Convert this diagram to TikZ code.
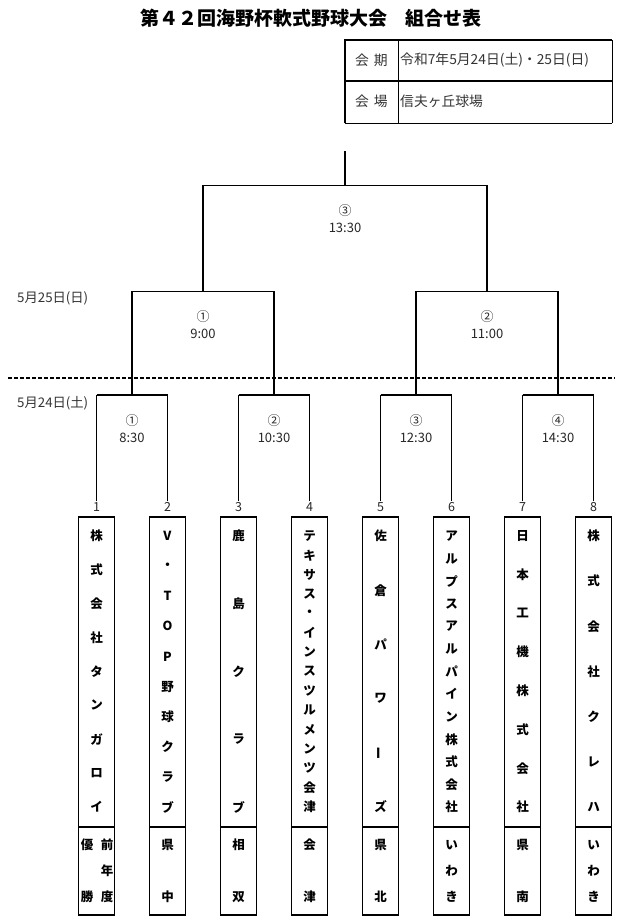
\documentclass[tikz,border=0pt]{standalone}
\usepackage{fontspec}
\setmainfont{Noto Sans CJK JP}
\usetikzlibrary{positioning}
\newcommand\tatebar{\rotatebox[origin=c]{90}{ー}}

\begin{document}
\begin{tikzpicture}[x=1pt,y=-1pt,
	thinline/.style={line width=0.9pt},
	thickline/.style={line width=1.9pt},
	numlabel/.style={font=\fontsize{12.5}{12.5}\selectfont,text=black!85,inner sep=1pt},
	matchlabel/.style={align=center,font=\fontsize{13}{17}\selectfont,text=black!85,inner sep=0pt},
	namebox/.style={draw,line width=0.9pt,minimum width=36pt,minimum height=310pt,inner sep=0pt,outer sep=0pt},
	areabox/.style={draw,line width=0.9pt,minimum width=36pt,minimum height=88pt,inner sep=0pt,outer sep=0pt},
	namechar/.style={font=\bfseries\fontsize{12.5}{12.5}\selectfont,inner sep=0pt},
	infotext/.style={font=\fontsize{13.8}{13.8}\selectfont,text=black!80,inner sep=0pt,anchor=west}]
		\useasboundingbox (0,0) rectangle (626,922);
		\def\xpos{96.5+71*(\i-1)}
		%Title
		\node[font=\bfseries\fontsize{19}{19}\selectfont] (title) at (311,18) {第４２回海野杯軟式野球大会　組合せ表};
		%Info table
		\draw[thickline] (345,123) -- (345,40) -- (612,40);
		\draw[thickline] (345,81) -- (612,81);
		\draw[thinline] (398,40) -- (398,123) (345,123) -- (612,123) (612,40) -- (612,123);
		\node[infotext] (kaiki) at (355,60) {会\hspace{5pt}期};
		\node[infotext] (kikan) at (400,60) {令和7年5月24日(土)・25日(日)};
		\node[infotext] (kaijo) at (355,101) {会\hspace{5pt}場};
		\node[infotext] (basho) at (400,101) {信夫ヶ丘球場};
		%Days
		\node[infotext,font=\fontsize{13.3}{13.3}\selectfont] (day2) at (17,298) {5月25日(日)};
		\node[infotext,font=\fontsize{13.3}{13.3}\selectfont] (day1) at (17,403) {5月24日(土)};
		\draw[line width=1.8pt,dash pattern=on 4pt off 2pt] (8,378) -- (615,378);
		%Numbers
		\foreach \i in {1,...,8}
			\node[numlabel] (n\i) at ({\xpos},507) {\i};
		\coordinate (a1) at (132,395);
		\coordinate (a2) at (274,395);
		\coordinate (a3) at (416,395);
		\coordinate (a4) at (558,395);
		\coordinate (b1) at (203,291);
		\coordinate (b2) at (487,291);
		\coordinate (c) at (345,185);
		\coordinate (top) at (345,151);
		%First round
		\foreach \m/\l/\r in {a1/n1/n2,a2/n3/n4,a3/n5/n6,a4/n7/n8}{
			\draw[thinline] (\l.north) -- (\l |- \m) (\r.north) -- (\r |- \m);
			\draw[thickline] (\l |- \m) -- (\r |- \m);
		}
		%Semifinals and final
		\foreach \m/\l/\r in {b1/a1/a2,b2/a3/a4,c/b1/b2}{
			\draw[thickline] (\l) -- (\l |- \m) (\r) -- (\r |- \m);
			\draw[thinline] (\l |- \m) -- (\r |- \m);
		}
		\draw[thickline] (c) -- (top);
		%Match labels
		\foreach \m/\t in {a1/{①\\8:30},a2/{②\\10:30},a3/{③\\12:30},a4/{④\\14:30},b1/{①\\9:00},b2/{②\\11:00},c/{③\\13:30}}
			\node[matchlabel] (lbl-\m) at ([yshift=-34pt]\m) {\t};
		%Team boxes
		\foreach \i/\n/\name in {1/9/{株,式,会,社,タ,ン,ガ,ロ,イ},2/10/{V,・,T,O,P,野,球,ク,ラ,ブ},3/5/{鹿,島,ク,ラ,ブ},4/15/{テ,キ,サ,ス,・,イ,ン,ス,ツ,ル,メ,ン,ツ,会,津},5/6/{佐,倉,パ,ワ,\tatebar,ズ},6/13/{ア,ル,プ,ス,ア,ル,パ,イ,ン,株,式,会,社},7/8/{日,本,工,機,株,式,会,社},8/7/{株,式,会,社,ク,レ,ハ}}{
			\pgfmathsetmacro\xx{\xpos}
			\node[namebox] (t\i) at (\xx,672) {};
			\node[areabox] (r\i) at (\xx,871) {};
			\draw[thickline] (r\i.south east) -- (r\i.south west) -- (t\i.north west) -- (t\i.north east);
			\draw[thickline] (t\i.south west) -- (t\i.south east);
			\foreach \ch [count=\k] in \name{
				\pgfmathsetmacro\yy{536+(\k-1)*271/(\n-1)}
				\node[namechar] (t\i-\k) at (\xx,\yy) {\ch};
			}
		}
		%Areas
		\foreach \i/\n/\area in {2/2/{県,中},3/2/{相,双},4/2/{会,津},5/2/{県,北},6/3/{い,わ,き},7/2/{県,南},8/3/{い,わ,き}}{
			\pgfmathsetmacro\xx{\xpos}
			\foreach \ch [count=\k] in \area{
				\pgfmathsetmacro\yy{845+(\k-1)*52/(\n-1)}
				\node[namechar] (r\i-\k) at (\xx,\yy) {\ch};
			}
		}
		\node[namechar] (r1-1) at (87,845) {優};
		\node[namechar] (r1-2) at (87,897) {勝};
		\node[namechar] (r1-3) at (107,845) {前};
		\node[namechar] (r1-4) at (107,871) {年};
		\node[namechar] (r1-5) at (107,897) {度};
\end{tikzpicture}
\end{document}
